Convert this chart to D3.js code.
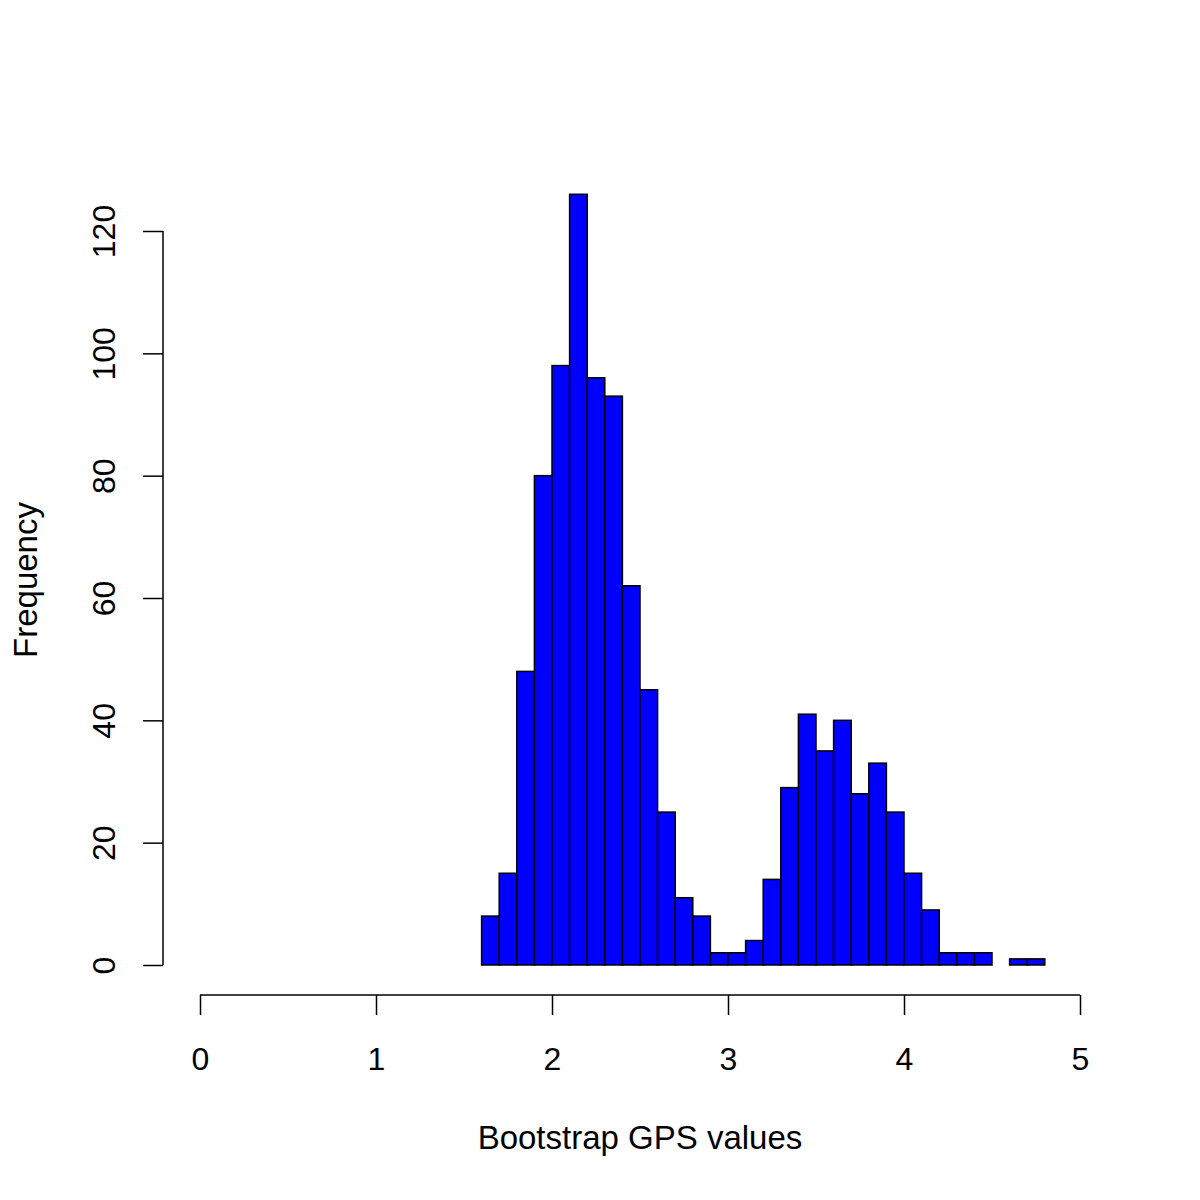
<!DOCTYPE html>
<html><head><meta charset="utf-8">
<script src="https://cdn.jsdelivr.net/npm/d3@7"></script>
<style>body{margin:0;background:#fff}text{font-family:"Liberation Sans",Arial,sans-serif}</style>
</head><body><svg id="c" width="1200" height="1200"></svg>
<script>
const binStarts = [1.6,1.7,1.8,1.9,2.0,2.1,2.2,2.3,2.4,2.5,2.6,2.7,2.8,2.9,3.0,3.1,3.2,3.3,3.4,3.5,3.6,3.7,3.8,3.9,4.0,4.1,4.2,4.3,4.4,4.5,4.6,4.7];
const counts = [8,15,48,80,98,126,96,93,62,45,25,11,8,2,2,4,14,29,41,35,40,28,33,25,15,9,2,2,2,0,1,1];
const binWidth = 0.1;
const xTicks = [0,1,2,3,4,5];
const yTicks = [0,20,40,60,80,100,120];
const xLabel = "Bootstrap GPS values";
const yLabel = "Frequency";

const svg = d3.select("#c");
const x = d3.scaleLinear().domain([0,5]).range([200,1080]);
const y = d3.scaleLinear().domain([0,120]).range([965,231]);

svg.append("g").selectAll("rect").data(binStarts).join("rect")
  .attr("x", (d)=>x(d))
  .attr("width", (d)=>x(d+binWidth)-x(d))
  .attr("y", (d,i)=>y(counts[i]))
  .attr("height", (d,i)=>y(0)-y(counts[i]))
  .attr("fill","#0000ff").attr("stroke","#000").attr("stroke-width",1.5);

const xa = svg.append("g").attr("transform","translate(0,995)")
  .call(d3.axisBottom(x).tickValues(xTicks).tickSize(20).tickFormat(d3.format("d")));
const ya = svg.append("g").attr("transform","translate(163,0)")
  .call(d3.axisLeft(y).tickValues(yTicks).tickSize(20).tickFormat(d3.format("d")));
[xa,ya].forEach(a=>{
  a.selectAll("path,line").attr("stroke","#000").attr("stroke-width",1.5);
  a.select(".domain").attr("d", null);
});
xa.append("line").attr("x1",x(0)).attr("x2",x(5)).attr("y1",0).attr("y2",0).attr("stroke","#000").attr("stroke-width",1.5);
ya.append("line").attr("x1",0).attr("x2",0).attr("y1",y(0)).attr("y2",y(120)).attr("stroke","#000").attr("stroke-width",1.5);
xa.selectAll(".tick text").attr("font-size",32).attr("fill","#000").attr("dy",null).attr("y",75);
ya.selectAll(".tick text").attr("font-size",32).attr("fill","#000")
  .attr("x",0).attr("dy",null).attr("y",0)
  .attr("text-anchor","middle")
  .attr("transform","translate(-48,0) rotate(-90)");

svg.append("text").attr("x",640).attr("y",1149).attr("text-anchor","middle").attr("font-size",33).text(xLabel);
svg.append("text").attr("transform","translate(37,580) rotate(-90)").attr("text-anchor","middle").attr("font-size",33).text(yLabel);
</script></body></html>
